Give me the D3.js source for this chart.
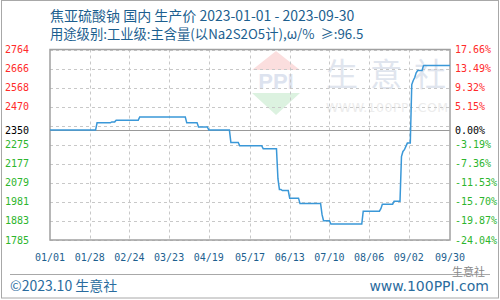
<!DOCTYPE html>
<html><head><meta charset="utf-8">
<script src="https://cdn.jsdelivr.net/npm/d3@7"></script>
<style>body{margin:0;background:#fff}svg{display:block}</style>
</head><body>
<svg id="c" width="500" height="300"></svg>
<script>
// ---- data ----
const dates = ["2023-01-01","2023-02-01","2023-02-02","2023-02-11","2023-02-12","2023-02-14","2023-02-15","2023-03-02","2023-03-03","2023-04-03","2023-04-04","2023-04-11","2023-04-12","2023-04-18","2023-04-19","2023-05-03","2023-05-04","2023-05-09","2023-05-10","2023-05-25","2023-05-26","2023-06-04","2023-06-05","2023-06-06","2023-06-07","2023-06-08","2023-06-12","2023-06-13","2023-06-19","2023-06-20","2023-07-04","2023-07-05","2023-07-06","2023-07-10","2023-07-11","2023-08-01","2023-08-02","2023-08-13","2023-08-14","2023-08-15","2023-08-22","2023-08-23","2023-08-27","2023-08-28","2023-08-29","2023-08-30","2023-08-31","2023-09-01","2023-09-03","2023-09-04","2023-09-05","2023-09-06","2023-09-07","2023-09-08","2023-09-11","2023-09-12","2023-09-30"];
const prices = [2350,2350,2387,2387,2392,2392,2400,2400,2417,2417,2387,2387,2366,2366,2350,2350,2286,2286,2269,2269,2254,2254,2100,2045,2045,2039,2039,2000,2000,1972,1972,1915,1884,1884,1867,1867,1933,1933,1946,1969,1969,1984,1984,2214,2240,2249,2266,2283,2283,2584,2605,2620,2644,2656,2656,2682,2682];
const xTickLabels = ["01/01","01/28","02/24","03/23","04/19","05/17","06/13","07/10","08/06","09/02","09/30"];
const leftTicks = [2764,2666,2568,2470,2350,2275,2177,2079,1981,1883,1785];
const rightTicks = ["17.66%","13.49%","9.32%","5.15%","0.00%","-3.19%","-7.36%","-11.53%","-15.70%","-19.87%","-24.04%"];
const gridValues = [2764,2666,2568,2470,2373,2275,2177,2079,1981,1883,1785];
const baseValue = 2350;
const title1 = "焦亚硫酸钠 国内 生产价 2023-01-01 - 2023-09-30";
const title2 = "用途级别:工业级:主含量(以Na2S2O5计),ω/%  ≥:96.5";

// ---- drawing ----
const svg = d3.select("#c");
const L=50,R=450,T=49.5,B=240;
const parse = d3.timeParse("%Y-%m-%d");
const x = d3.scaleTime().domain([parse("2023-01-01"), parse("2023-09-30")]).range([L,R]);
const y = d3.scaleLinear().domain([1785,2764]).range([B,T]);
const labColor = v => v>baseValue ? "#ff2a2a" : (v<baseValue ? "#2db52d" : "#000");

svg.append("defs").append("clipPath").attr("id","pc").append("rect")
  .attr("x",L).attr("y",T).attr("width",R-L).attr("height",B-T);

// outer border
svg.append("rect").attr("x",1.5).attr("y",0.5).attr("width",497).attr("height",297.5)
  .attr("fill","none").attr("stroke","#a8a8a8").attr("stroke-width",1);

// watermark
const wm = svg.append("g").attr("clip-path","url(#pc)");
wm.append("path").attr("d","M276,51 L300,70 L252,70 Z").attr("fill","#fbdede");
wm.append("path").attr("d","M252,93 L300,93 L276,115 Z").attr("fill","#dcf2e0");
wm.append("text").attr("x",276).attr("y",89).attr("text-anchor","middle")
  .attr("font-family","Liberation Sans, Arial").attr("font-weight","bold").attr("font-size",22)
  .attr("fill","#dde3ef").text("PPI");
wm.append("text").attr("x",326).attr("y",86).attr("font-family","Noto Sans CJK SC")
  .attr("font-size",32).attr("fill","#e0e5ee").attr("letter-spacing",12).text("生意社");
wm.append("text").attr("x",326).attr("y",112).attr("font-family","DejaVu Sans")
  .attr("font-size",12.5).attr("fill","#ececec").attr("letter-spacing",0.5).text("WWW.100PPI.COM");

// grid
svg.append("g").selectAll("line.h").data(gridValues).join("line")
  .attr("x1",L).attr("x2",R).attr("y1",d=>Math.round(y(d))+0.5).attr("y2",d=>Math.round(y(d))+0.5)
  .attr("stroke","#c8c8c8").attr("stroke-dasharray","3,3");
const xTickDates = xTickLabels.map(s=>parse("2023-"+s.replace("/","-")));
svg.append("g").selectAll("line.v").data(xTickDates.slice(1,-1)).join("line")
  .attr("x1",d=>Math.round(x(d))+0.5).attr("x2",d=>Math.round(x(d))+0.5).attr("y1",T).attr("y2",B)
  .attr("stroke","#c8c8c8").attr("stroke-dasharray","3,3");
// baseline
svg.append("line").attr("x1",L).attr("x2",R).attr("y1",Math.round(y(baseValue))+0.5).attr("y2",Math.round(y(baseValue))+0.5)
  .attr("stroke","#999").attr("stroke-width",1.2);
// plot border
svg.append("rect").attr("x",L).attr("y",T).attr("width",R-L).attr("height",B-T)
  .attr("fill","none").attr("stroke","#a0a0a0").attr("stroke-width",1.5);

// line
const pts = dates.map((d,i)=>({d:parse(d),v:prices[i]}));
svg.append("path").datum(pts)
  .attr("d", d3.line().x(p=>x(p.d)).y(p=>y(p.v)))
  .attr("fill","none").attr("stroke","#3a98d8").attr("stroke-width",1.5);

// y labels
const mono = "DejaVu Sans Mono, Liberation Mono, monospace";
svg.append("g").selectAll("text").data(leftTicks).join("text")
  .attr("x",5).attr("y",d=>y(d)+3.5).attr("font-family",mono).attr("font-size",10)
  .attr("fill",d=>labColor(d)).text(d=>d);
svg.append("g").selectAll("text").data(leftTicks).join("text")
  .attr("x",455).attr("y",d=>y(d)+3.5).attr("font-family",mono).attr("font-size",10)
  .attr("fill",d=>labColor(d)).text((d,i)=>rightTicks[i]);

// x labels
svg.append("g").selectAll("text").data(xTickLabels).join("text")
  .attr("x",(d,i)=>x(xTickDates[i])).attr("y",261).attr("text-anchor","middle")
  .attr("font-family",mono).attr("font-size",10).attr("fill","#1d5f8f").text(d=>d);

// titles
svg.append("text").attr("x",50).attr("y",21).attr("font-family","Noto Sans CJK SC").attr("font-size",14)
  .attr("fill","#1d5f8f").text(title1);
svg.append("text").attr("x",50).attr("y",39).attr("font-family","Noto Sans CJK SC").attr("font-size",13.3)
  .attr("fill","#1d5f8f").style("white-space","pre").text(title2);

// footer
svg.append("line").attr("x1",10).attr("x2",490).attr("y1",274.5).attr("y2",274.5).attr("stroke","#a8a8a8");
svg.append("text").attr("x",10).attr("y",291).attr("font-family","Noto Sans CJK SC").attr("font-size",14)
  .attr("fill","#2a6c9e").text("©2023.10 生意社");
svg.append("text").attr("x",489).attr("y",291).attr("text-anchor","end").attr("font-family","DejaVu Sans")
  .attr("font-size",14).attr("fill","#2a6c9e").text("www.100PPI.com");
svg.append("text").attr("x",452).attr("y",276).attr("font-family","Noto Sans CJK SC").attr("font-size",11)
  .attr("fill","#888").text("生意社");
</script>
</body></html>
